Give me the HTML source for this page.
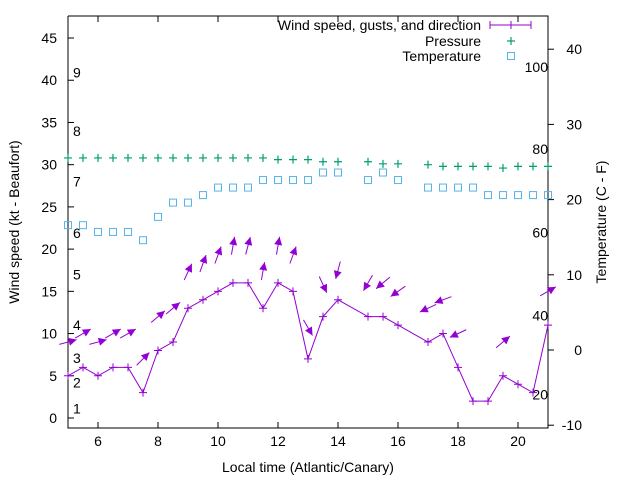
<!DOCTYPE html>
<html><head><meta charset="utf-8"><style>
html,body{margin:0;padding:0;background:#fff}
svg{display:block;font-family:"Liberation Sans",sans-serif}
</style></head><body>
<svg id="chart" width="640" height="480" viewBox="0 0 640 480">
<g id="axes"></g><g id="marks"></g><g id="legend"></g>
</svg>
<script>
const hours=[5,5.5,6,6.5,7,7.5,8,8.5,9,9.5,10,10.5,11,11.5,12,12.5,13,13.5,14,15,15.5,16,17,17.5,18,18.5,19,19.5,20,20.5,21];
const speeds=[5,6,5,6,6,3,8,9,13,14,15,16,16,13,16,15,7,12,14,12,12,11,9,10,6,2,2,5,4,3,11];
const gustHours=[5,5.5,6,6.5,7,7.5,8,8.5,9,9.5,10,10.5,11,11.5,12,12.5,13,13.5,14,15,15.5,16,17,17.5,18,19.5,21];
const gusts=[9,10,9,10,10,7,12,13,17.3,18.3,19.3,20.4,20.4,17.4,20.4,19.3,10.7,15.8,17.5,16,16,15,13,14,10,9,15];
const gustDirs=[15,30,15,30,30,45,40,40,65,70,70,80,75,80,80,70,-60,-65,-105,-120,-140,-145,-155,-160,-155,40,30];
const pressHours=[5,5.5,6,6.5,7,7.5,8,8.5,9,9.5,10,10.5,11,11.5,12,12.5,13,13.5,14,15,15.5,16,17,17.5,18,18.5,19,19.5,20,20.5,21];
const pressure=[30.8,30.8,30.8,30.8,30.8,30.8,30.8,30.8,30.8,30.8,30.8,30.8,30.8,30.8,30.6,30.6,30.6,30.35,30.35,30.35,30.1,30.1,30.0,29.8,29.8,29.8,29.8,29.6,29.8,29.8,29.8];
const tempHours=[5,5.5,6,6.5,7,7.5,8,8.5,9,9.5,10,10.5,11,11.5,12,12.5,13,13.5,14,15,15.5,16,17,17.5,18,18.5,19,19.5,20,20.5,21];
const temps=[16.6,16.6,15.7,15.7,15.7,14.6,17.7,19.6,19.6,20.6,21.6,21.6,21.6,22.6,22.6,22.6,22.6,23.6,23.6,22.6,23.6,22.6,21.6,21.6,21.6,21.6,20.6,20.6,20.6,20.6,20.6];
const xTicks=[6,8,10,12,14,16,18,20];
const yTicks=[0,5,10,15,20,25,30,35,40,45];
const y2Ticks=[-10,0,10,20,30,40];
const beaufort=[[1,1.1],[2,4.2],[3,7.1],[4,11],[5,17],[6,21.9],[7,28],[8,34],[9,40.9]];
const fahr=[[20,-5.9],[40,4.6],[60,15.6],[80,26.7],[100,37.6]];

const NS="http://www.w3.org/2000/svg";
const L=68,R=548,T=16,B=428;
const xs=h=>L+(h-5)*30;
const ys=v=>418-v*8.444;
const y2s=v=>350-v*7.52;
function mk(tag,attrs,parent,text){const e=document.createElementNS(NS,tag);for(const k in attrs)e.setAttribute(k,attrs[k]);if(text!==undefined)e.textContent=text;parent.appendChild(e);return e;}
const ax=document.getElementById('axes'),mg=document.getElementById('marks'),lg=document.getElementById('legend');

let bd=mk('path',{d:`M${L},${T}V${B}H${R}V${T}H${L}`,fill:'none',stroke:'#000','stroke-width':1},ax);


xTicks.forEach(t=>{const x=xs(t);
 let p=mk('path',{d:`M${x},${B}v-6M${x},${T}v6`,stroke:'#000'},ax);
 
 
 let tx=mk('text',{x:x,y:B+18,'text-anchor':'middle','font-size':14,fill:'#000'},ax,String(t));
 
 });
yTicks.forEach(t=>{const y=ys(t);
 let p=mk('path',{d:`M${L},${y}h6`,stroke:'#000'},ax);
 
 
 let tx=mk('text',{x:L-11,y:y+5,'text-anchor':'end','font-size':14,fill:'#000'},ax,String(t));
 
 });
y2Ticks.forEach(t=>{const y=y2s(t);
 let p=mk('path',{d:`M${R},${y}h6`,stroke:'#000'},ax);
 
 
 let tx=mk('text',{x:R+34,y:y+5,'text-anchor':'end','font-size':14,fill:'#000'},ax,String(t));
 
 });
beaufort.forEach(b=>{let tx=mk('text',{x:73,y:ys(b[1])+5,'font-size':14,fill:'#000'},ax,String(b[0]));
 
 });
fahr.forEach(f=>{let tx=mk('text',{x:R,y:y2s(f[1])+5,'text-anchor':'end','font-size':14,fill:'#000'},ax,String(f[0]));
 
 });
let t1=mk('text',{x:466,y:472,'text-anchor':'middle','font-size':14,fill:'#000'},ax,'Local time (Atlantic/Canary)');
t1.setAttribute('x',308);


let t2=mk('text',{x:0,y:0,'text-anchor':'middle','font-size':14,fill:'#000',transform:'translate(19,222) rotate(-90)'},ax,'Wind speed (kt - Beaufort)');


let t3=mk('text',{x:0,y:0,'text-anchor':'middle','font-size':14,fill:'#000',transform:'translate(606,222) rotate(-90)'},ax,'Temperature (C - F)');



const purple='#9400d3',green='#009e73',blue='#56b4e9';
// pressure
pressHours.forEach((h,i)=>{const x=xs(h),y=ys(pressure[i]);
 let p=mk('path',{d:`M${x-4},${y}h8M${x},${y-4}v8`,stroke:green,'stroke-width':1.2},mg);
 
 });
// temperature
tempHours.forEach((h,i)=>{const x=xs(h),y=y2s(temps[i]);
 let r=mk('rect',{x:x-3.5,y:y-3.5,width:7,height:7,fill:'none',stroke:blue,'stroke-width':1},mg);
 
 });
// speed line
let ln=mk('polyline',{points:hours.map((h,i)=>xs(h)+','+ys(speeds[i])).join(' '),fill:'none',stroke:purple,'stroke-width':1},mg);


hours.forEach((h,i)=>{const x=xs(h),y=ys(speeds[i]);
 let p=mk('path',{d:`M${x-4},${y}h8M${x},${y-4}v8`,stroke:purple,'stroke-width':1},mg);
 
 });
// gust arrows
gustHours.forEach((h,i)=>{const cx=xs(h),cy=ys(gusts[i]);const a=gustDirs[i]*Math.PI/180;
 const dx=Math.cos(a)*9,dy=-Math.sin(a)*9;
 const hx=cx+dx,hy=cy+dy;const ux=Math.cos(a),uy=-Math.sin(a);
 const bx=hx-ux*8,by=hy-uy*8;
 const g=mk('g',{},mg);
 
 
 mk('line',{x1:cx-dx,y1:cy-dy,x2:hx,y2:hy,stroke:purple,'stroke-width':1},g);
 mk('polygon',{points:`${hx},${hy} ${bx-uy*4},${by+ux*4} ${bx+uy*4},${by-ux*4}`,fill:purple},g);});
// legend
const lw=mk('text',{x:481,y:30,'text-anchor':'end','font-size':14,fill:'#000'},lg,'Wind speed, gusts, and direction');


let ls=mk('path',{d:'M490,25h41M490,21v8M531,21v8M507,25h8M511,21v8',stroke:purple},lg);


const lp=mk('text',{x:481,y:46,'text-anchor':'end','font-size':14,fill:'#000'},lg,'Pressure');


let lps=mk('path',{d:'M507,41h8M511,37v8',stroke:green,'stroke-width':1.2},lg);


const lt=mk('text',{x:481,y:61,'text-anchor':'end','font-size':14,fill:'#000'},lg,'Temperature');


let lts=mk('rect',{x:507.5,y:52.5,width:7,height:7,fill:'none',stroke:blue},lg);


</script>
</body></html>
